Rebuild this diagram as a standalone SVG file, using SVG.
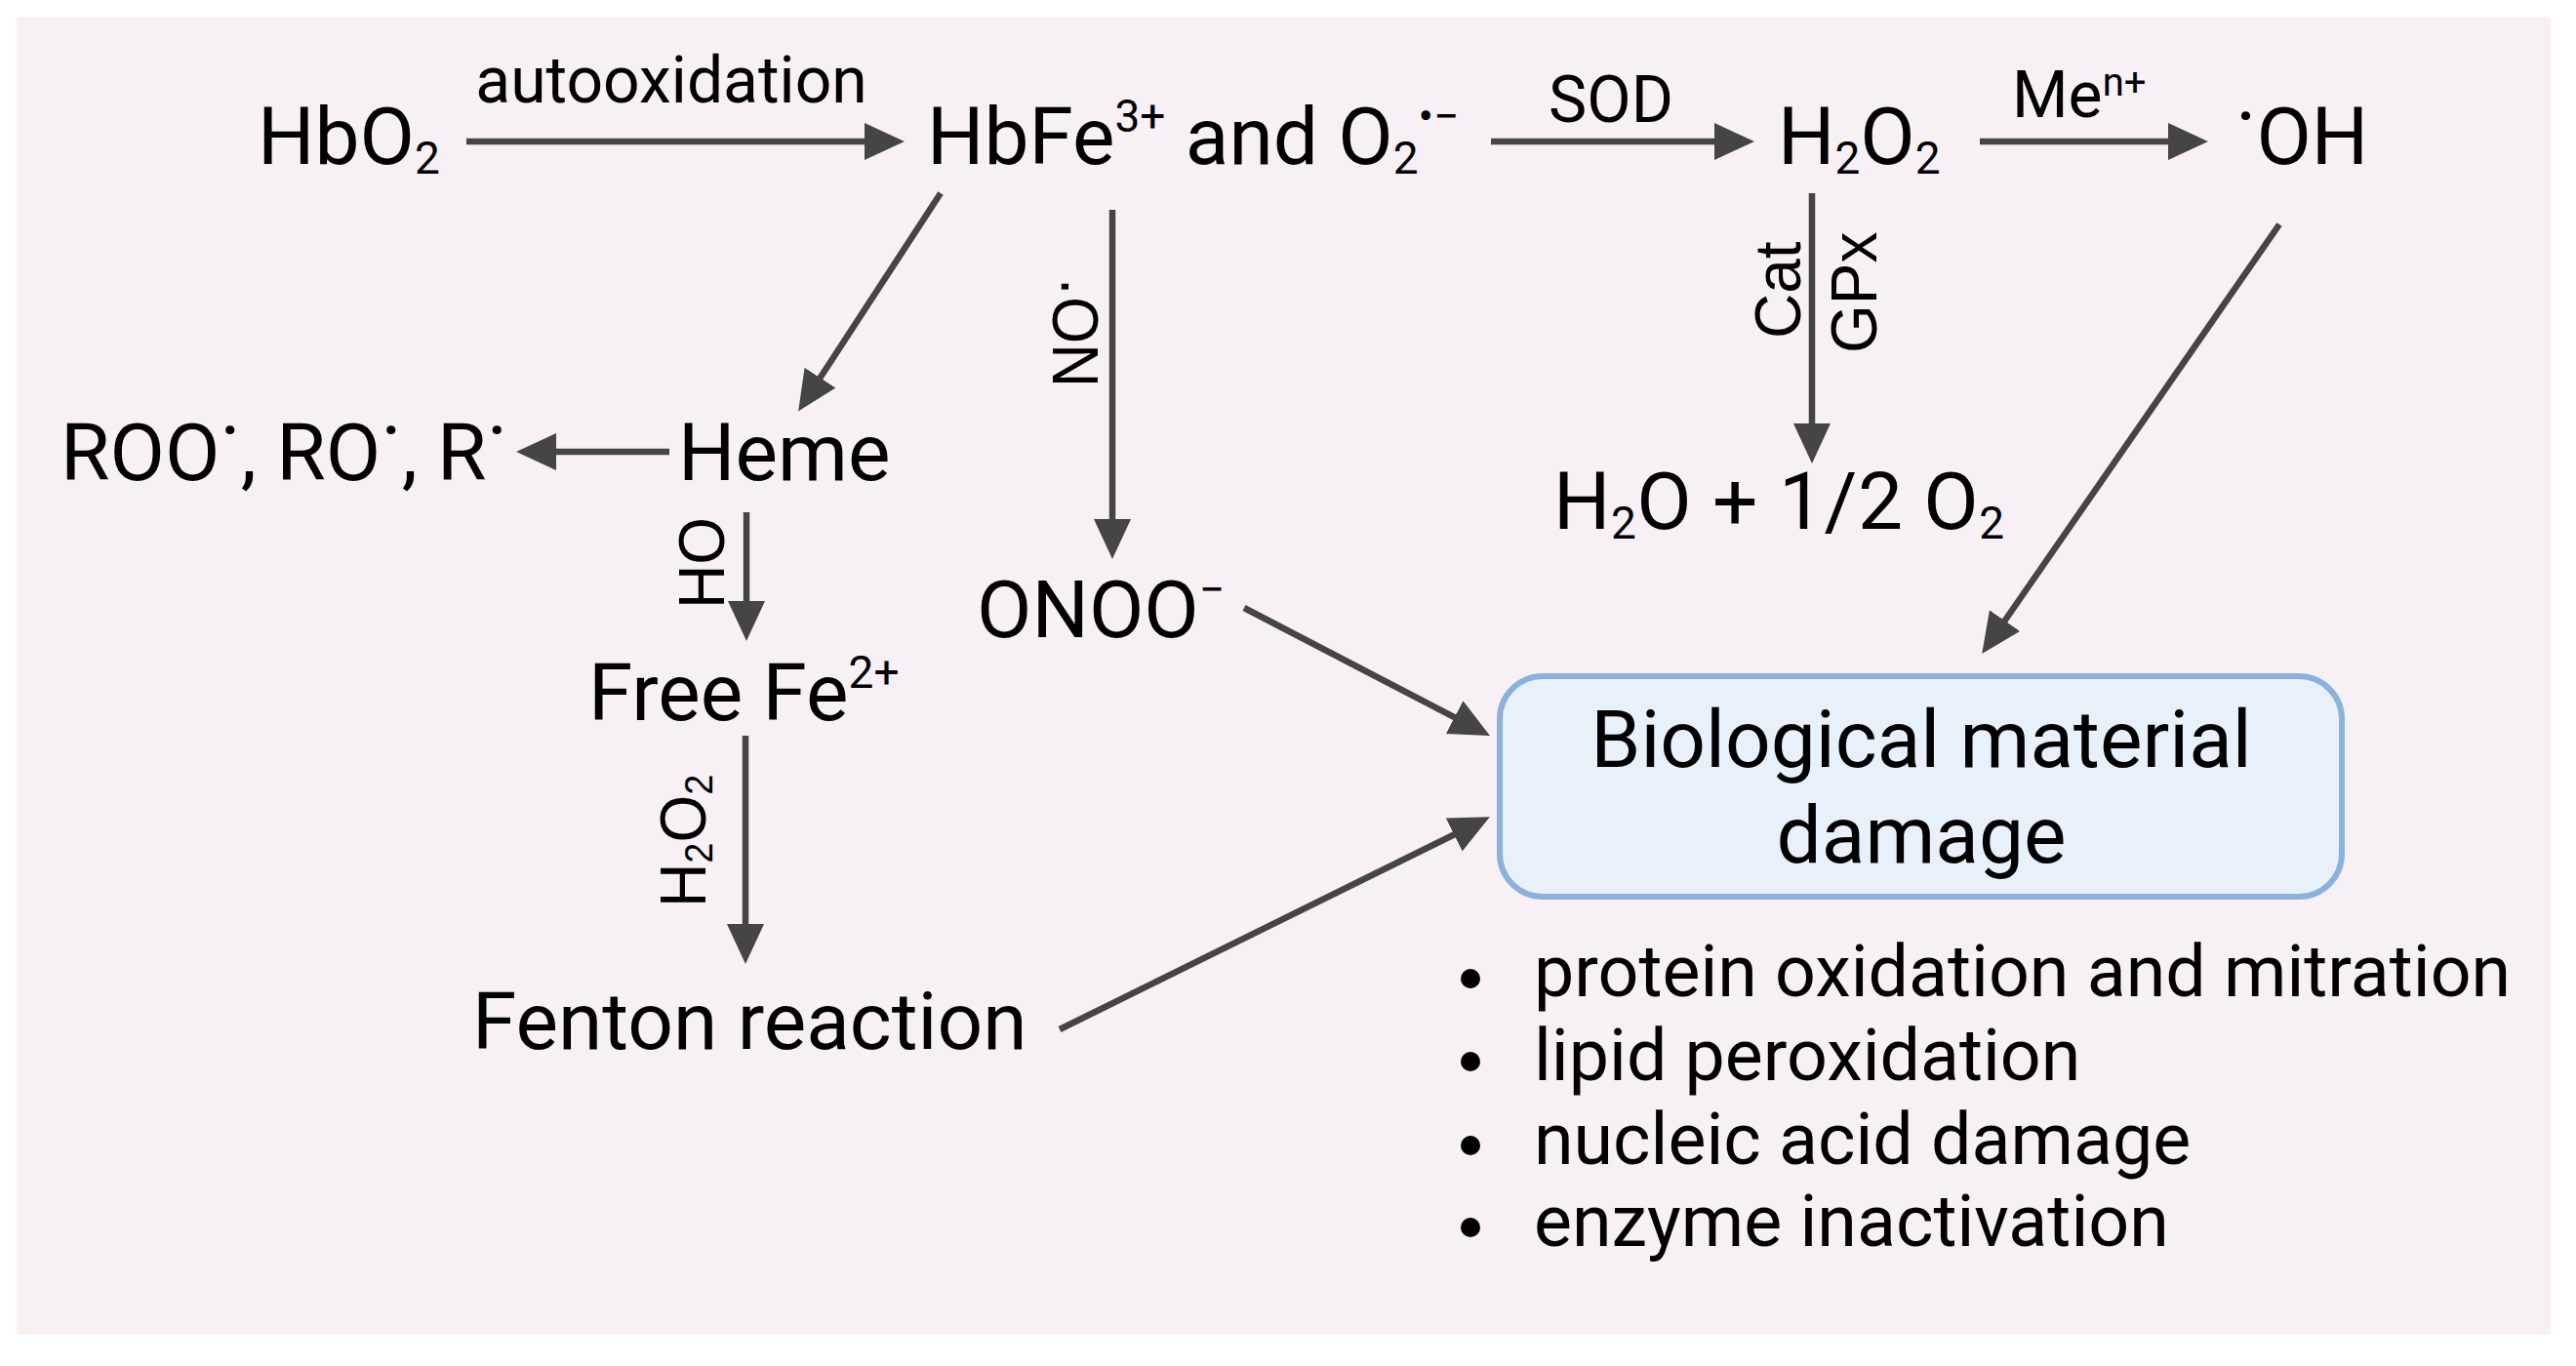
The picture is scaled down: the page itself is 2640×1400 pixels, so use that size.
<svg xmlns="http://www.w3.org/2000/svg" width="2640" height="1400" viewBox="0 0 2640 1400">
  <defs>
    <marker id="ah" markerUnits="userSpaceOnUse" markerWidth="42" markerHeight="40" viewBox="0 0 42 40" refX="1" refY="19" orient="auto">
      <path d="M0,0 L41,19 L0,38 z" fill="#454545"/>
    </marker>
  </defs>
  <style>
    .t { font-family: Roboto, "Liberation Sans", sans-serif; font-size: 82px; fill: #000; }
    .l { font-family: Roboto, "Liberation Sans", sans-serif; font-size: 66px; fill: #000; }
    .b { font-family: Roboto, "Liberation Sans", sans-serif; font-size: 73.5px; fill: #000; }
    .r { font-family: "Liberation Sans", Arial, sans-serif; font-size: 66px; fill: #000; }
    .sm { font-size: 46px; }
    .sr { font-size: 40px; }
    .c { fill: none; stroke: #454545; stroke-width: 6.5; marker-end: url(#ah); }
  </style>
  <rect x="0" y="0" width="2640" height="1400" fill="#ffffff"/>
  <rect x="17" y="17" width="2597" height="1351" fill="#f7f1f6"/>

  <g id="connectors">
    <line class="c" x1="478" y1="145" x2="887" y2="145"/>
    <line class="c" x1="1528" y1="145" x2="1758" y2="145"/>
    <line class="c" x1="2029" y1="145" x2="2223" y2="145"/>
    <line class="c" x1="964" y1="198" x2="840" y2="388"/>
    <line class="c" x1="686" y1="463" x2="569" y2="463"/>
    <line class="c" x1="1140" y1="215" x2="1140" y2="533"/>
    <line class="c" x1="1857" y1="198" x2="1857" y2="435"/>
    <line class="c" x1="765" y1="525" x2="765" y2="617"/>
    <line class="c" x1="764" y1="754" x2="764" y2="948"/>
    <line class="c" x1="1275" y1="623" x2="1491.5" y2="735.6"/>
    <line class="c" x1="1086" y1="1055" x2="1491" y2="855"/>
    <line class="c" x1="2336" y1="230" x2="2054" y2="637"/>
  </g>

  <g id="labels">
    <text class="l" x="688" y="105" text-anchor="middle">autooxidation</text>
    <text class="l" x="1651" y="125" text-anchor="middle">SOD</text>
    <text class="l" x="2062" y="120">Me<tspan class="sr" dy="-22">n+</tspan></text>
    <text class="r" transform="translate(1125,397) rotate(-90) scale(0.94,1)">NO<tspan dy="-15">·</tspan></text>
    <text class="r" transform="translate(1845,347) rotate(-90) scale(0.97,1)">Cat</text>
    <text class="r" transform="translate(1923,362) rotate(-90) scale(0.97,1)">GPx</text>
    <text class="r" transform="translate(742,624) rotate(-90) scale(0.95,1)">HO</text>
    <text class="r" transform="translate(723,930) rotate(-90) scale(0.95,1)">H<tspan class="sr" dy="7">2</tspan><tspan dy="-7">O</tspan><tspan class="sr" dy="7">2</tspan></text>
  </g>

  <g id="node-hbo2"><text class="t" x="264" y="168">HbO<tspan class="sm" dy="10">2</tspan></text></g>
  <g id="node-hbfe"><text class="t" x="950" y="168">HbFe<tspan class="sm" dy="-33">3+</tspan><tspan dy="33"> and O</tspan><tspan class="sm" dy="10">2</tspan><tspan class="sm" dy="-43">•−</tspan></text></g>
  <g id="node-h2o2"><text class="t" x="1822" y="168">H<tspan class="sm" dy="10">2</tspan><tspan dy="-10">O</tspan><tspan class="sm" dy="10">2</tspan></text></g>
  <g id="node-oh"><text class="t" x="2291" y="168"><tspan dy="-20">·</tspan><tspan dy="20">OH</tspan></text></g>
  <g id="node-radicals"><text class="t" x="62" y="492">ROO<tspan dy="-22">·</tspan><tspan dy="22">, RO</tspan><tspan dy="-22">·</tspan><tspan dy="22">, R</tspan><tspan dy="-22">·</tspan></text></g>
  <g id="node-heme"><text class="t" x="695" y="492">Heme</text></g>
  <g id="node-onoo"><text class="t" x="1001" y="653">ONOO<tspan class="sm" dy="-33">−</tspan></text></g>
  <g id="node-h2o"><text class="t" x="1592" y="542" letter-spacing="0.5">H<tspan class="sm" dy="10">2</tspan><tspan dy="-10">O + 1/2 O</tspan><tspan class="sm" dy="10">2</tspan></text></g>
  <g id="node-fe"><text class="t" x="603" y="738">Free Fe<tspan class="sm" dy="-33">2+</tspan></text></g>
  <g id="node-fenton"><text class="t" x="484" y="1075">Fenton reaction</text></g>
  <g id="node-damage">
    <rect x="1537" y="693" width="863" height="226" rx="44" fill="#e8f0fa" stroke="#8cb1dc" stroke-width="6"/>
    <text class="t" x="1969" y="786" text-anchor="middle">Biological material</text>
    <text class="t" x="1969" y="884" text-anchor="middle">damage</text>
  </g>
  <g id="list">
    <circle cx="1507" cy="1003" r="10" fill="#000"/>
    <circle cx="1507" cy="1088" r="10" fill="#000"/>
    <circle cx="1507" cy="1174" r="10" fill="#000"/>
    <circle cx="1507" cy="1258" r="10" fill="#000"/>
    <text class="b" x="1572" y="1021">protein oxidation and mitration</text>
    <text class="b" x="1572" y="1107">lipid peroxidation</text>
    <text class="b" x="1572" y="1193">nucleic acid damage</text>
    <text class="b" x="1572" y="1277">enzyme inactivation</text>
  </g>
</svg>
